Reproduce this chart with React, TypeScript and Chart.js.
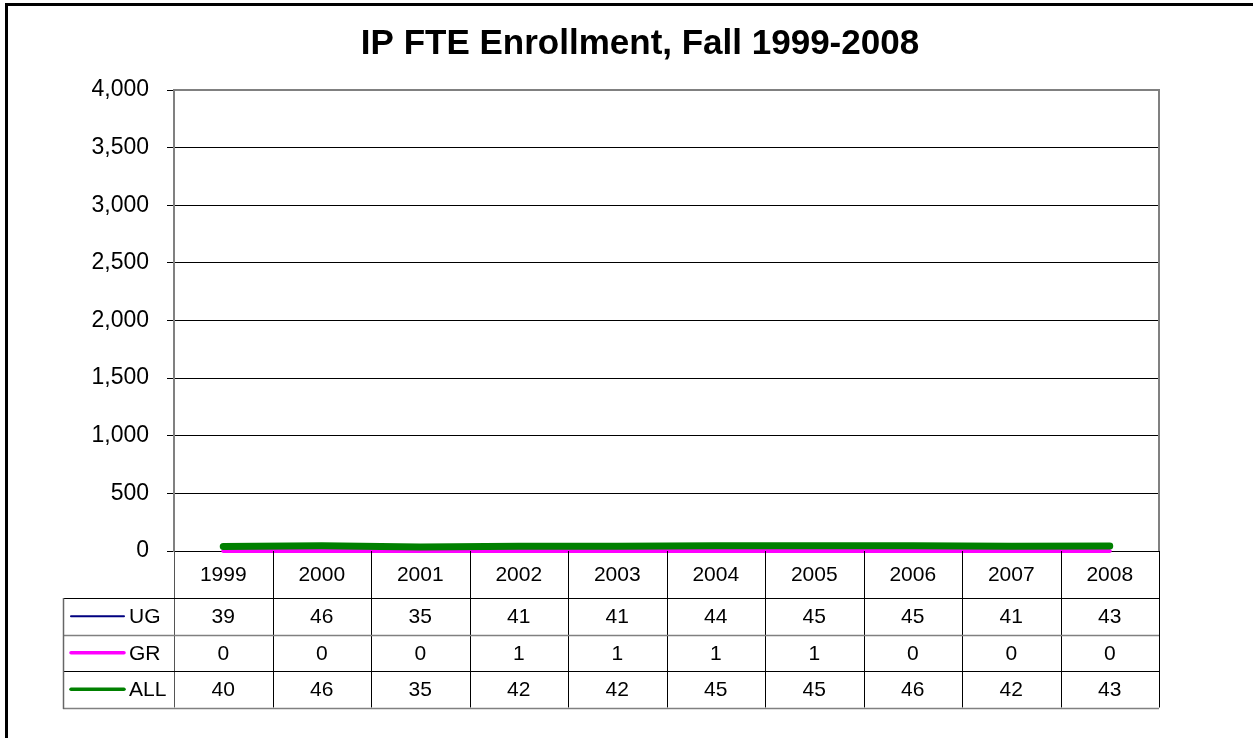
import React, { useEffect, useRef } from "react";
import { Chart, registerables } from "chart.js";

Chart.register(...registerables);

const TITLE = "IP FTE Enrollment, Fall 1999-2008";
const years = ["1999", "2000", "2001", "2002", "2003", "2004", "2005", "2006", "2007", "2008"];
const ugValues = [39, 46, 35, 41, 41, 44, 45, 45, 41, 43];
const grValues = [0, 0, 0, 1, 1, 1, 1, 0, 0, 0];
const allValues = [40, 46, 35, 42, 42, 45, 45, 46, 42, 43];
const seriesNames = ["UG", "GR", "ALL"];
const yMin = 0;
const yMax = 4000;
const yStep = 500;

const FONT = "'Liberation Sans', Arial, sans-serif";
const COLORS = ["#000080", "#FF00FF", "#008000"];
const LINE_WIDTHS = [3, 4, 7];
const KEY_WIDTHS = [2, 3.5, 3.5];
const ROW_LINE_COLORS = ["#000", "#808080", "#000", "#808080"];

const titlePlugin = {
  id: "customTitle",
  afterDraw(chart: any) {
    const ctx = chart.ctx;
    ctx.save();
    ctx.fillStyle = "#000";
    ctx.font = `bold 35px ${FONT}`;
    ctx.textAlign = "center";
    ctx.textBaseline = "alphabetic";
    ctx.fillText(TITLE, 640, 54);
    ctx.restore();
  },
};

const plotBorderPlugin = {
  id: "plotBorder",
  beforeDatasetsDraw(chart: any) {
    const { ctx, chartArea } = chart;
    ctx.save();
    ctx.strokeStyle = "#808080";
    ctx.lineWidth = 2;
    ctx.beginPath();
    ctx.moveTo(chartArea.left, chartArea.top);
    ctx.lineTo(chartArea.right, chartArea.top);
    ctx.lineTo(chartArea.right, chartArea.bottom);
    ctx.stroke();
    ctx.restore();
  },
};

const tablePlugin = {
  id: "dataTable",
  afterDraw(chart: any) {
    const { ctx, chartArea } = chart;
    const xs = chart.scales.x;
    const n = years.length;
    const colW = (chartArea.right - chartArea.left) / n;
    const headerH = 47;
    const rowH = 36.5;
    const legendLeft = 63;
    const top = chartArea.bottom;
    const rowsTop = top + headerH;
    const bottom = rowsTop + rowH * seriesNames.length;
    const rows = [ugValues, grValues, allValues];

    ctx.save();
    ctx.lineWidth = 1;
    // vertical category boundaries
    for (let i = 0; i <= n; i++) {
      const x = Math.round(chartArea.left + i * colW) + 0.5;
      ctx.strokeStyle = i === 0 ? "#555" : "#000";
      ctx.beginPath();
      ctx.moveTo(x, top);
      ctx.lineTo(x, bottom);
      ctx.stroke();
    }
    // horizontal row lines
    for (let r = 0; r <= seriesNames.length; r++) {
      const y = Math.round(rowsTop + r * rowH) + 0.5;
      ctx.strokeStyle = ROW_LINE_COLORS[r];
      ctx.lineWidth = r % 2 === 1 ? 1.5 : 1;
      ctx.beginPath();
      ctx.moveTo(legendLeft, y);
      ctx.lineTo(chartArea.right, y);
      ctx.stroke();
    }
    // left border of legend column
    ctx.strokeStyle = "#666";
    ctx.lineWidth = 1.5;
    ctx.beginPath();
    ctx.moveTo(legendLeft + 0.5, Math.round(rowsTop));
    ctx.lineTo(legendLeft + 0.5, Math.round(bottom) + 1);
    ctx.stroke();

    ctx.fillStyle = "#000";
    ctx.font = `21px ${FONT}`;
    ctx.textAlign = "center";
    ctx.textBaseline = "middle";
    // header years
    years.forEach((yr, i) => {
      ctx.fillText(yr, xs.getPixelForValue(i), top + headerH / 2 + 1);
    });
    // rows
    rows.forEach((vals, r) => {
      const cy = rowsTop + r * rowH + rowH / 2 + 1;
      ctx.textAlign = "center";
      vals.forEach((v, i) => {
        ctx.fillText(String(v), xs.getPixelForValue(i), cy);
      });
      // legend key
      ctx.save();
      ctx.strokeStyle = COLORS[r];
      ctx.lineWidth = KEY_WIDTHS[r];
      ctx.lineCap = "round";
      ctx.beginPath();
      ctx.moveTo(legendLeft + 8, cy - 1);
      ctx.lineTo(legendLeft + 61, cy - 1);
      ctx.stroke();
      ctx.restore();
      ctx.textAlign = "left";
      ctx.fillText(seriesNames[r], legendLeft + 66, cy);
    });
    ctx.restore();
  },
};

export default function App() {
  const canvasRef = useRef<HTMLCanvasElement | null>(null);

  useEffect(() => {
    if (!canvasRef.current) return;
    const datasets = [ugValues, grValues, allValues].map((vals, i) => ({
      label: seriesNames[i],
      data: vals,
      borderColor: COLORS[i],
      backgroundColor: COLORS[i],
      borderWidth: LINE_WIDTHS[i],
      pointRadius: 0,
      pointHoverRadius: 0,
      tension: 0,
      fill: false,
      clip: 5,
      borderCapStyle: "round" as const,
      borderJoinStyle: "round" as const,
      order: seriesNames.length - i,
    }));
    const chart = new Chart(canvasRef.current, {
      type: "line",
      data: { labels: years, datasets },
      options: {
        animation: false,
        responsive: false,
        maintainAspectRatio: false,
        events: [],
        layout: { padding: { top: 90, right: 94, left: 0, bottom: 0 } },
        plugins: {
          legend: { display: false },
          title: { display: false },
          tooltip: { enabled: false },
        },
        scales: {
          x: {
            type: "category",
            offset: true,
            grid: { display: false },
            border: { display: false },
            ticks: { display: false },
            afterFit(scale: any) {
              scale.height = 187;
            },
          },
          y: {
            min: yMin,
            max: yMax,
            ticks: {
              stepSize: yStep,
              color: "#000",
              padding: 18,
              font: { family: FONT, size: 23 },
              callback: (v: any) => Number(v).toLocaleString("en-US"),
            },
            grid: {
              color: "#000",
              lineWidth: 1,
              drawTicks: true,
              tickLength: 7,
              tickColor: "#000",
            },
            border: { display: true, color: "#808080", width: 2 },
            afterFit(scale: any) {
              scale.width = 174;
            },
          },
        },
      },
      plugins: [plotBorderPlugin, tablePlugin, titlePlugin],
    });
    return () => chart.destroy();
  }, []);

  return (
    <div
      style={{
        position: "fixed",
        left: 0,
        top: 0,
        width: 1253,
        height: 738,
        overflow: "hidden",
        background: "#fff",
      }}
    >
      <div
        style={{
          position: "absolute",
          left: 5,
          top: 3,
          width: 1400,
          height: 900,
          border: "3px solid #000",
        }}
      />
      <canvas
        ref={canvasRef}
        width={1253}
        height={738}
        style={{ position: "absolute", left: 0, top: 0, width: 1253, height: 738 }}
      />
    </div>
  );
}
